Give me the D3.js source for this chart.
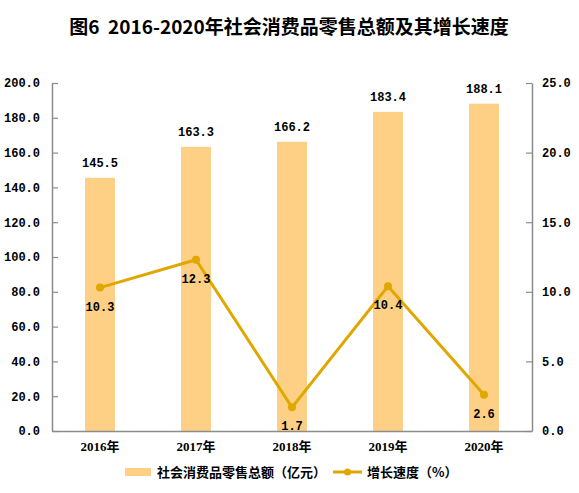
<!DOCTYPE html>
<html><head><meta charset="utf-8">
<script src="https://cdn.jsdelivr.net/npm/d3@7"></script>
<style>body{margin:0;background:#fff}svg{display:block}</style>
</head><body>
<svg id="c" width="579" height="493"></svg>
<script>
const categories = ["2016年","2017年","2018年","2019年","2020年"];
const salesValues = [145.5, 163.3, 166.2, 183.4, 188.1];
const growthValues = [10.3, 12.3, 1.7, 10.4, 2.6];
const leftTicks = [0,20,40,60,80,100,120,140,160,180,200];
const rightTicks = [0,5,10,15,20,25];
const titleText = "图6  2016-2020年社会消费品零售总额及其增长速度";
const legendBar = "社会消费品零售总额（亿元）";
const legendLine = "增长速度（%）";

const barColor = "#FED086", lineColor = "#DFA700", axisColor = "#8C8C8C";
const monoFont = "'Liberation Mono','DejaVu Sans Mono',monospace";
const cjkFont = "'Noto Sans CJK SC','Noto Sans',sans-serif";

const svg = d3.select("#c");
const L = 52, R = 532, T = 83, B = 431;

const x = d3.scaleBand().domain(categories).range([L, R]);
const yL = d3.scaleLinear().domain([0, 200]).range([B, T]);
const yR = d3.scaleLinear().domain([0, 25]).range([B, T]);

svg.append("text").attr("x", 289).attr("y", 34).attr("text-anchor","middle")
  .style("white-space","pre")
  .attr("font-family", cjkFont).attr("font-weight","bold").attr("font-size",19)
  .attr("fill","#000").text(titleText);

// bars
const bw = 30;
svg.append("g").selectAll("rect").data(salesValues).join("rect")
  .attr("x", (d,i)=> x(categories[i]) + x.bandwidth()/2 - bw/2)
  .attr("y", d=> yL(d)).attr("width", bw).attr("height", d=> B - yL(d))
  .attr("fill", barColor);

// axes
const gL = svg.append("g").attr("transform",`translate(${L},0)`)
  .call(d3.axisLeft(yL).tickValues(leftTicks).tickFormat(d3.format(".1f")).tickSizeInner(-6).tickSizeOuter(0).tickPadding(12));
const gR = svg.append("g").attr("transform",`translate(${R},0)`)
  .call(d3.axisRight(yR).tickValues(rightTicks).tickFormat(d3.format(".1f")).tickSizeInner(-6).tickSizeOuter(0).tickPadding(16));
const gB = svg.append("g").attr("transform",`translate(0,${B})`)
  .call(d3.axisBottom(x).tickSize(0).tickPadding(0));
[gL,gR,gB].forEach(g=>{
  g.select(".domain").attr("stroke", axisColor).attr("stroke-width",1.5);
  g.selectAll(".tick line").attr("stroke", axisColor).attr("stroke-width",1.2);
  g.selectAll("text").attr("fill","#000").attr("font-weight","bold");
});
gL.selectAll("text").attr("font-family", monoFont).attr("font-size",12);
gR.selectAll("text").attr("font-family", monoFont).attr("font-size",12).attr("text-anchor","start").attr("dx",-6);
gB.selectAll("text").attr("font-family", "'Liberation Serif'," + cjkFont).attr("font-size",13).attr("dy","1.55em");
gL.attr("font-family", null); gR.attr("font-family", null); gB.attr("font-family", null);

// bar labels
svg.append("g").selectAll("text").data(salesValues).join("text")
  .attr("x",(d,i)=> x(categories[i]) + x.bandwidth()/2)
  .attr("y", d=> yL(d) - 11).attr("text-anchor","middle")
  .attr("font-family", monoFont).attr("font-weight","bold").attr("font-size",12)
  .attr("fill","#000").text(d=> d.toFixed(1));

// line
const line = d3.line().x((d,i)=> x(categories[i]) + x.bandwidth()/2).y(d=> yR(d));
svg.append("path").datum(growthValues).attr("d", line).attr("fill","none")
  .attr("stroke", lineColor).attr("stroke-width",3).attr("stroke-linejoin","round");
svg.append("g").selectAll("circle").data(growthValues).join("circle")
  .attr("cx",(d,i)=> x(categories[i]) + x.bandwidth()/2).attr("cy", d=> yR(d)).attr("r",4)
  .attr("fill", lineColor);
svg.append("g").selectAll("text").data(growthValues).join("text")
  .attr("x",(d,i)=> x(categories[i]) + x.bandwidth()/2)
  .attr("y", d=> yR(d) + 23).attr("text-anchor","middle")
  .attr("font-family", monoFont).attr("font-weight","bold").attr("font-size",12)
  .attr("fill","#000").text(d=> d.toFixed(1));

// legend
const lg = svg.append("g");
lg.append("rect").attr("x",125).attr("y",468).attr("width",26).attr("height",8).attr("fill",barColor);
lg.append("text").attr("x",157).attr("y",476.5).attr("font-family",cjkFont).attr("font-weight","bold")
  .attr("font-size",13).attr("fill","#000").text(legendBar);
lg.append("line").attr("x1",333).attr("x2",362).attr("y1",472).attr("y2",472)
  .attr("stroke",lineColor).attr("stroke-width",3);
lg.append("circle").attr("cx",347.5).attr("cy",472).attr("r",3.5).attr("fill",lineColor);
lg.append("text").attr("x",367).attr("y",476.5).attr("font-family",cjkFont).attr("font-weight","bold")
  .attr("font-size",13).attr("fill","#000").text(legendLine);
</script>
</body></html>
